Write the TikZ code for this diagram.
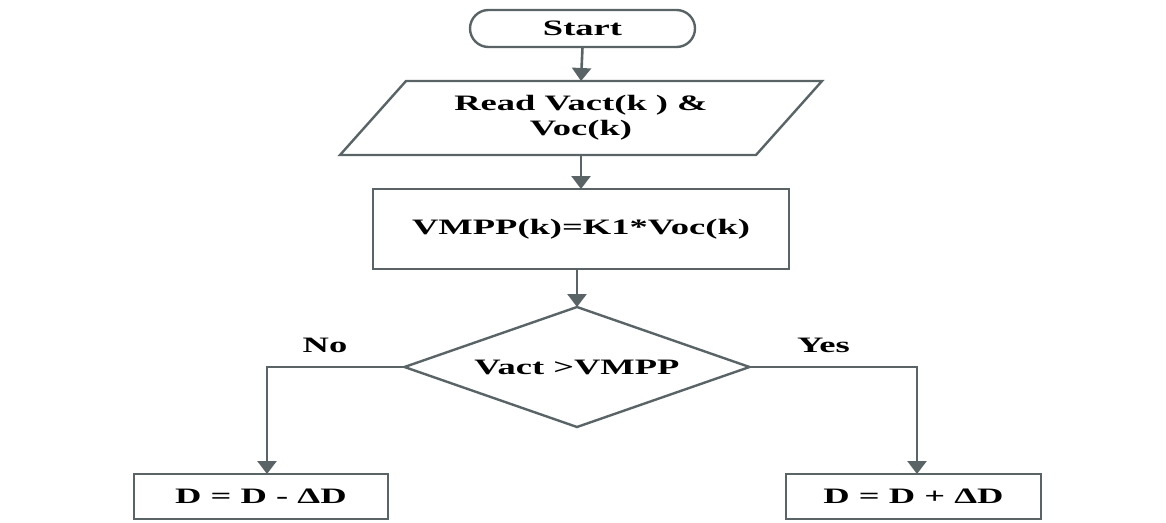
\documentclass[tikz,border=0pt]{standalone}
\usepackage{fontspec}
\setmainfont{Liberation Serif}[FakeStretch=1.66]
\usetikzlibrary{shapes.geometric,arrows.meta,calc}
\definecolor{flow}{RGB}{90,100,102}
\begin{document}
\begin{tikzpicture}[x=1pt,y=-1pt,
  txt/.style={font=\bfseries\fontsize{22}{25}\selectfont,align=center,text=black},
  box/.style={txt,draw=flow,line width=2.4pt,inner sep=0pt,outer sep=0pt},
  arr/.style={draw=flow,line width=2.6pt,-{Triangle[width=19pt,length=13pt]}}]
\useasboundingbox[fill=white] (0,0) rectangle (1166,522);

% blocks
\node[box,rounded corners=18.5pt,minimum width=225pt,minimum height=37pt] (start) at (582.5,28.5) {Start};
\node[txt,inner sep=0pt,outer sep=0pt,minimum width=482pt,minimum height=74pt] (read) at (581,118) {Read Vact(k ) \&\\Voc(k)};
\draw[flow,line width=2.4pt] (read.south west) -- ([xshift=-66pt]read.south east)
  -- (read.north east) -- ([xshift=66pt]read.north west) -- cycle;
\node[box,minimum width=416pt,minimum height=80pt] (vmpp) at (581,229) {VMPP(k)=K1*Voc(k)};
\node[box,diamond,aspect=2.875,minimum width=345pt,minimum height=120pt] (dia) at (577,367) {Vact >VMPP};
\node[box,minimum width=254pt,minimum height=45pt] (dminus) at (261,496.5) {D = D - \symbol{"0394}D};
\node[box,minimum width=255pt,minimum height=45pt] (dplus) at (913.5,496.5) {D = D + \symbol{"0394}D};

% branch labels
\node[txt] (no) at (325,345) {No};
\node[txt] (yes) at (823.5,345) {Yes};

% connectors
\draw[arr] (start.south) -- (read.north);
\draw[arr] (read.south) -- (read.south |- vmpp.north);
\draw[arr] (vmpp.south -| dia.north) -- (dia.north);
\coordinate (lk) at (267,367);
\coordinate (rk) at (917,367);
\draw[arr] (dia.west) -- (lk) -- (lk |- dminus.north);
\draw[arr] (dia.east) -- (rk) -- (rk |- dplus.north);
\end{tikzpicture}
\end{document}
